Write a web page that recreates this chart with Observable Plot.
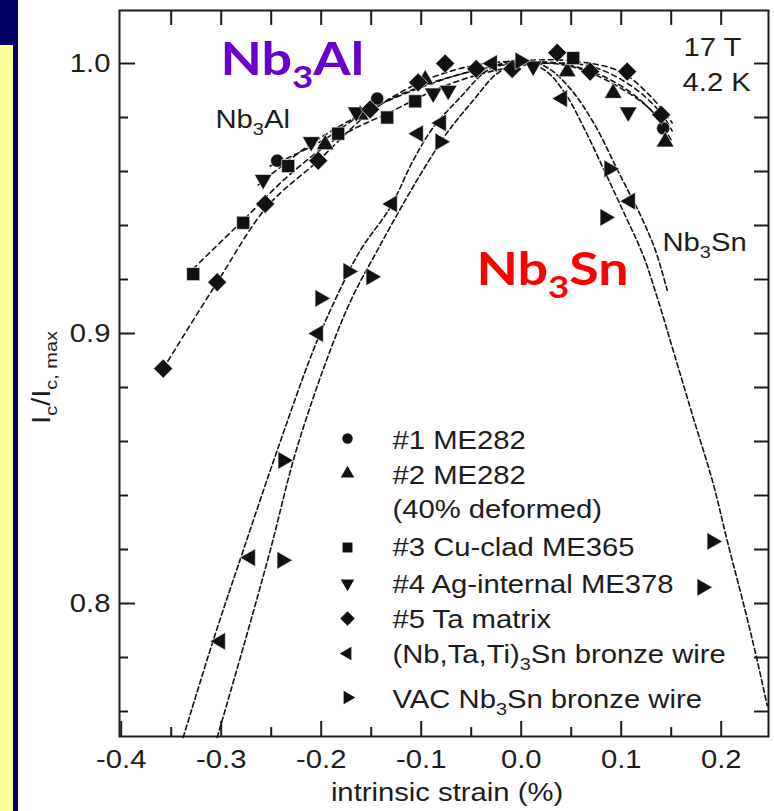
<!DOCTYPE html>
<html>
<head>
<meta charset="utf-8">
<script src="https://cdn.jsdelivr.net/npm/d3@7"></script>
<script src="https://cdn.jsdelivr.net/npm/@observablehq/plot@0.6"></script>
<style>
html, body { margin: 0; padding: 0; background: #fff; }
#wrap { position: relative; width: 774px; height: 811px; overflow: hidden; background: #fff; }
#navy { position: absolute; left: 0; top: 0; width: 18px; height: 811px; background: #000066; z-index: 2; }
#yellow { position: absolute; left: 0; top: 45px; width: 13px; height: 766px; background: #ffff99; z-index: 3; }
</style>
</head>
<body>
<div id="wrap"><div id="navy"></div><div id="yellow"></div></div>
<script>
// ---------- tick values ----------
const xMajor = [-0.4, -0.3, -0.2, -0.1, 0.0, 0.1, 0.2];
const xMinor = [-0.35, -0.25, -0.15, -0.05, 0.05, 0.15];
const xTop = [-0.35, -0.3, -0.25, -0.2, -0.15, -0.1, -0.05, 0.0, 0.05, 0.1, 0.15, 0.2];
const yMajor = [0.8, 0.9, 1.0];
const yMinor = [0.76, 0.78, 0.82, 0.84, 0.86, 0.88, 0.92, 0.94, 0.96, 0.98];
const yRight = [0.76, 0.78, 0.8, 0.82, 0.84, 0.86, 0.88, 0.9, 0.92, 0.94, 0.96, 0.98, 1.0];

// ---------- measured points: strain (%) and Ic/Ic,max ----------
const s1Strain = [-0.244, -0.144, 0.142];
const s1Ic     = [0.964, 0.987, 0.976];
const s2Strain = [-0.196, -0.161, -0.096, 0.046, 0.092, 0.144];
const s2Ic     = [0.970, 0.981, 0.994, 0.997, 0.989, 0.971];
const s3Strain = [-0.328, -0.278, -0.233, -0.183, -0.134, -0.106, 0.052];
const s3Ic     = [0.922, 0.941, 0.962, 0.974, 0.980, 0.986, 1.002];
const s4Strain = [-0.258, -0.210, -0.165, -0.088, -0.073, 0.012, 0.107];
const s4Ic     = [0.957, 0.971, 0.982, 0.989, 0.990, 0.999, 0.982];
const s5Strain = [-0.358, -0.304, -0.256, -0.203, -0.151, -0.103, -0.076, -0.045, -0.009, 0.036, 0.069, 0.106, 0.140];
const s5Ic     = [0.887, 0.919, 0.948, 0.964, 0.983, 0.993, 1.000, 0.998, 0.998, 1.004, 0.997, 0.997, 0.981];
const ntStrain = [-0.301, -0.271, -0.203, -0.129, -0.103, -0.080, -0.029, 0.041, 0.109];
const ntIc     = [0.786, 0.817, 0.900, 0.948, 0.974, 0.978, 1.000, 0.987, 0.949];
const vacStrain = [-0.239, -0.238, -0.201, -0.173, -0.150, -0.081, -0.001, 0.088, 0.084, 0.191, 0.181];
const vacIc     = [0.816, 0.853, 0.913, 0.923, 0.921, 0.971, 1.001, 0.961, 0.943, 0.823, 0.806];

// ---------- dashed fit curves ----------
const fitNtX = [-0.338, -0.308, -0.278, -0.244, -0.208, -0.185, -0.161, -0.131, -0.108, -0.088, -0.061, -0.034, -0.006, 0.024, 0.049, 0.074, 0.097, 0.119, 0.134, 0.146];
const fitNtY = [0.7504, 0.7863, 0.8196, 0.8567, 0.8937, 0.9133, 0.9307, 0.9467, 0.9641, 0.9763, 0.9874, 0.9974, 1.0011, 0.9989, 0.9907, 0.9770, 0.9600, 0.9440, 0.9310, 0.9160];
const fitVacX = [-0.304, -0.276, -0.251, -0.225, -0.191, -0.169, -0.144, -0.116, -0.094, -0.074, -0.048, -0.024, 0.001, 0.024, 0.044, 0.064, 0.084, 0.104, 0.122, 0.137, 0.152, 0.172, 0.192, 0.206, 0.224, 0.236, 0.246];
const fitVacY = [0.7504, 0.7863, 0.8196, 0.8567, 0.8937, 0.9133, 0.9307, 0.9493, 0.9630, 0.9744, 0.9863, 0.9963, 1.0004, 0.9974, 0.9889, 0.9752, 0.9596, 0.9437, 0.9289, 0.9122, 0.8937, 0.8689, 0.8444, 0.8233, 0.7974, 0.7789, 0.7622];
const fit5X = [-0.358, -0.304, -0.254, -0.203, -0.151, -0.101, -0.051, -0.001, 0.049, 0.099, 0.129, 0.151];
const fit5Y = [0.887, 0.919, 0.947, 0.964, 0.982, 0.993, 0.999, 1.001, 1.001, 0.997, 0.988, 0.978];
const fit3X = [-0.328, -0.278, -0.231, -0.181, -0.131, -0.081, -0.031, 0.019, 0.069, 0.109, 0.139, 0.151];
const fit3Y = [0.924, 0.942, 0.959, 0.973, 0.982, 0.991, 0.997, 1.000, 0.999, 0.992, 0.982, 0.975];
const fit4X = [-0.263, -0.211, -0.161, -0.111, -0.061, -0.011, 0.039, 0.089, 0.129, 0.151];
const fit4Y = [0.955, 0.970, 0.981, 0.990, 0.996, 1.000, 1.000, 0.994, 0.983, 0.971];
const fit2X = [-0.251, -0.201, -0.151, -0.101, -0.051, -0.001, 0.049, 0.099, 0.134, 0.149];
const fit2Y = [0.962, 0.971, 0.983, 0.991, 0.997, 1.000, 0.999, 0.991, 0.981, 0.970];

// ---------- legend / labels ----------
const legendLabels = ["#1 ME282", "#2 ME282", "(40% deformed)", "#3 Cu-clad ME365", "#4 Ag-internal ME378", "#5 Ta matrix", "(Nb,Ta,Ti)_{3}Sn bronze wire", "VAC Nb_{3}Sn bronze wire"];
const xLabel = "intrinsic strain (%)";
const yLabel = "I_{c}/I_{c, max}";
const fieldLabels = ["17 T", "4.2 K"];
const phaseLabels = ["Nb_{3}Al", "Nb_{3}Sn"];

// ---------- layout ----------
const W = 774, H = 811, mL = 119, mT = 10, mR = 6, mB = 75;
const fw = W - mL - mR, fh = H - mT - mB;
const INK = "#1c1c1c";

const pts = (xs, ys) => xs.map((x, i) => ({x, y: ys[i]}));

const series = [
  {d: pts(s1Strain, s1Ic), symbol: "circle", rotate: 0, r: 6.6, lr: 5.2},
  {d: pts(s2Strain, s2Ic), symbol: "triangle", rotate: 0, r: 6.6, lr: 5},
  {d: pts(s3Strain, s3Ic), symbol: "square", rotate: 0, r: 7.4, lr: 5.6},
  {d: pts(s4Strain, s4Ic), symbol: "triangle", rotate: 180, r: 6.6, lr: 5},
  {d: pts(s5Strain, s5Ic), symbol: "square", rotate: 45, r: 7.6, lr: 5.8},
  {d: pts(ntStrain, ntIc), symbol: "triangle", rotate: -90, r: 6.6, lr: 5},
  {d: pts(vacStrain, vacIc), symbol: "triangle", rotate: 90, r: 6.6, lr: 5}
];
const fits = [
  {d: pts(fitNtX, fitNtY), dash: "5,3"},
  {d: pts(fitVacX, fitVacY), dash: "5,3"},
  {d: pts(fit5X, fit5Y), dash: "5,4"},
  {d: pts(fit3X, fit3Y), dash: "5,4"},
  {d: pts(fit4X, fit4Y), dash: "5,4"},
  {d: pts(fit2X, fit2Y), dash: "5,4"}
];

// legend rows (pixel offsets inside the frame)
const legendMarkerRows = [428, 463, null, 537, 573, 608, 643, 687];
const legendTextBase = [438, 473, 507, 545, 582, 617, 652, 697];
const legendSeriesIdx = [0, 1, null, 2, 3, 4, 5, 6];

const marks = [];
marks.push(Plot.frame({stroke: INK, strokeWidth: 2}));
// inward ticks
marks.push(Plot.tickX(xMajor, {x: d => d, insetTop: fh - 15, stroke: INK, strokeWidth: 2}));
marks.push(Plot.tickX(xMinor, {x: d => d, insetTop: fh - 9, stroke: INK, strokeWidth: 2}));
marks.push(Plot.tickX(xTop, {x: d => d, insetBottom: fh - 15, stroke: INK, strokeWidth: 2}));
marks.push(Plot.tickY(yMajor, {y: d => d, insetRight: fw - 16, stroke: INK, strokeWidth: 2}));
marks.push(Plot.tickY(yMinor, {y: d => d, insetRight: fw - 9, stroke: INK, strokeWidth: 2}));
marks.push(Plot.tickY(yRight, {y: d => d, insetLeft: fw - 14, stroke: INK, strokeWidth: 2}));
marks.push(Plot.axisX(xMajor, {tickSize: 0, tickPadding: 14, tickFormat: d => d.toFixed(1), label: null, fontSize: 25, fill: INK}));
marks.push(Plot.axisY(yMajor, {tickSize: 0, tickPadding: 9, tickFormat: d => d.toFixed(1), label: null, fontSize: 25, fill: INK}));

for (const f of fits) {
  marks.push(Plot.line(f.d, {x: "x", y: "y", curve: "catmull-rom", stroke: "#111", strokeWidth: 1.6, strokeDasharray: f.dash}));
}
for (const s of series) {
  marks.push(Plot.dot(s.d, {x: "x", y: "y", symbol: s.symbol, rotate: s.rotate, r: s.r, fill: "#111", stroke: "#fff", strokeWidth: 0.6}));
}

// legend
legendLabels.forEach((lab, i) => {
  marks.push(Plot.text([lab], {text: d => d, frameAnchor: "top-left", dx: 273, dy: legendTextBase[i], textAnchor: "start", lineAnchor: "bottom", fontSize: 25, fill: INK}));
  const si = legendSeriesIdx[i];
  if (si !== null) {
    const s = series[si];
    marks.push(Plot.dot([0], {frameAnchor: "top-left", dx: 228, dy: legendMarkerRows[i], symbol: s.symbol, rotate: s.rotate, r: s.lr, fill: "#111"}));
  }
});

// annotations
marks.push(Plot.text([fieldLabels[0]], {text: d => d, frameAnchor: "top-left", dx: 564, dy: 45, textAnchor: "start", lineAnchor: "bottom", fontSize: 25, fill: INK}));
marks.push(Plot.text([fieldLabels[1]], {text: d => d, frameAnchor: "top-left", dx: 563, dy: 80, textAnchor: "start", lineAnchor: "bottom", fontSize: 25, fill: INK}));
marks.push(Plot.text([phaseLabels[0]], {text: d => d, frameAnchor: "top-left", dx: 96, dy: 117, textAnchor: "start", lineAnchor: "bottom", fontSize: 25, fill: INK}));
marks.push(Plot.text([phaseLabels[1]], {text: d => d, frameAnchor: "top-left", dx: 543, dy: 240, textAnchor: "start", lineAnchor: "bottom", fontSize: 25, fill: INK}));
marks.push(Plot.text([phaseLabels[0]], {text: d => d, frameAnchor: "top-left", dx: 101, dy: 64, textAnchor: "start", lineAnchor: "bottom", fontSize: 46, fontWeight: "bold", fontFamily: "Lato, 'Open Sans', sans-serif", fill: "#6a00cc", ariaLabel: "bigAl"}));
marks.push(Plot.text([phaseLabels[1]], {text: d => d, frameAnchor: "top-left", dx: 357, dy: 274, textAnchor: "start", lineAnchor: "bottom", fontSize: 46, fontWeight: "bold", fontFamily: "Lato, 'Open Sans', sans-serif", fill: "#ff0000", ariaLabel: "bigSn"}));
// axis titles
marks.push(Plot.text([xLabel], {text: d => d, frameAnchor: "bottom", dx: 3, dy: 64, textAnchor: "middle", lineAnchor: "bottom", fontSize: 25, fill: INK}));
marks.push(Plot.text([yLabel], {text: d => d, frameAnchor: "left", dx: -70, dy: 4, rotate: -90, textAnchor: "middle", lineAnchor: "bottom", fontSize: 25, fill: INK}));

const chart = Plot.plot({
  width: W, height: H,
  marginLeft: mL, marginTop: mT, marginRight: mR, marginBottom: mB,
  style: {fontFamily: "'Liberation Sans', Arial, sans-serif", fontSize: "25px", background: "transparent", color: INK},
  x: {domain: [-0.4017, 0.2473]},
  y: {domain: [0.75074, 1.01963]},
  marks
});
chart.style.position = "absolute";
chart.style.left = "0px";
chart.style.top = "0px";
document.getElementById("wrap").prepend(chart);

// ---- post-process: subscripts and horizontal stretch of the scanned Helvetica text ----
const STRETCH = 1.17, SUB_SCALE = 0.68, SUB_SHIFT = 0.3;
chart.querySelectorAll("text").forEach(t => {
  const s = t.textContent;
  if (s.includes("_{")) {
    const parts = s.split(/_\{([^}]*)\}/);
    t.textContent = "";
    const NS = "http://www.w3.org/2000/svg";
    let shifted = false;
    parts.forEach((p, i) => {
      if (p === "") { return; }
      const ts = document.createElementNS(NS, "tspan");
      ts.textContent = p;
      if (i % 2 === 1) {
        ts.setAttribute("font-size", (SUB_SCALE * 100) + "%");
        ts.setAttribute("dy", (SUB_SHIFT / SUB_SCALE) + "em");
        shifted = true;
      } else if (shifted) {
        ts.setAttribute("dy", (-SUB_SHIFT) + "em");
        shifted = false;
      }
      t.appendChild(ts);
    });
  }
  const g = t.closest("g[aria-label]");
  const al = g ? g.getAttribute("aria-label") : "";
  if (al === "bigAl" || al === "bigSn") return;
  const tr = t.getAttribute("transform");
  if (tr && tr.includes("translate")) {
    t.setAttribute("transform", tr + ` scale(${STRETCH},1)`);
  } else {
    const x = +(t.getAttribute("x") || 0), y = +(t.getAttribute("y") || 0);
    t.removeAttribute("x");
    t.setAttribute("transform", `translate(${x},${y}) ${tr || ""} scale(${STRETCH},1)`);
    if (t.hasAttribute("y") && !isNaN(+t.getAttribute("y"))) t.removeAttribute("y");
  }
});
</script>
</body>
</html>
